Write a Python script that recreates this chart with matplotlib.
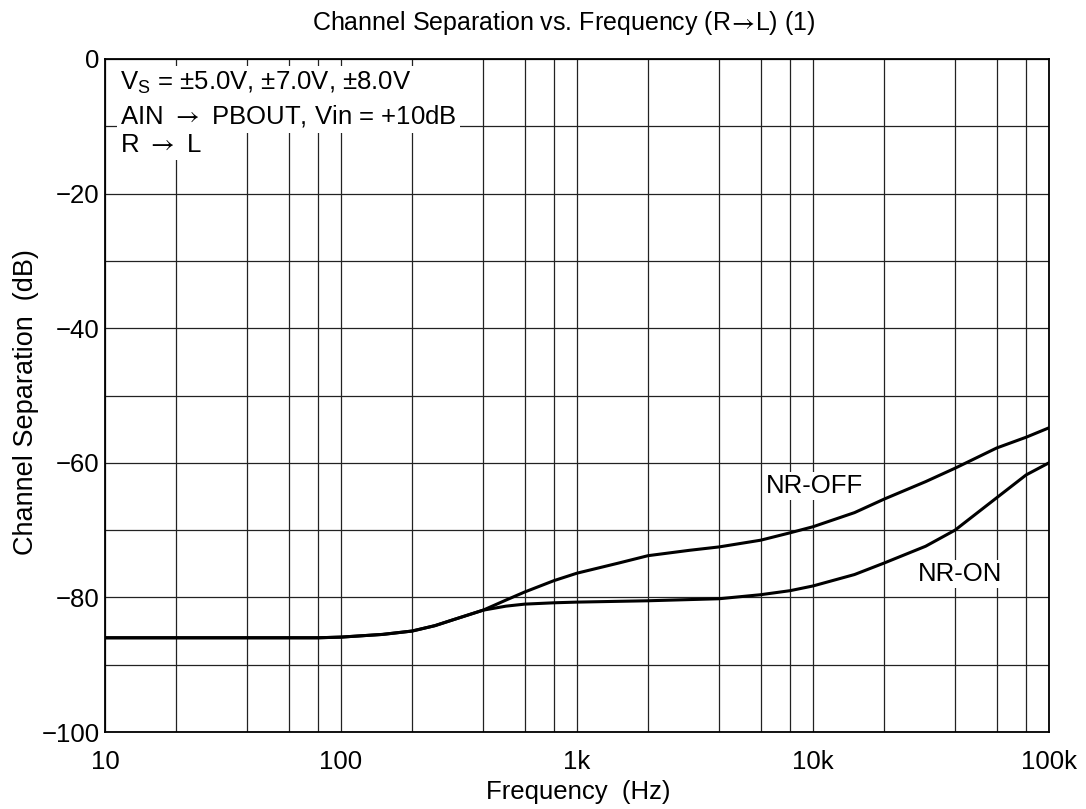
import numpy as np
import matplotlib
matplotlib.use('Agg')
import matplotlib.pyplot as plt
from matplotlib.ticker import FixedLocator, NullFormatter

plt.rcParams['font.family'] = ['Liberation Sans', 'DejaVu Sans']
plt.rcParams['mathtext.fontset'] = 'custom'
plt.rcParams['mathtext.rm'] = 'Liberation Sans'
plt.rcParams['mathtext.sf'] = 'STIXGeneral'
plt.rcParams['axes.unicode_minus'] = True

# common low-frequency part (both curves identical)
freq_low = [10, 20, 40, 60, 80, 100, 150, 200, 250, 300, 400]
sep_low = [-86.0, -86.0, -86.0, -86.0, -86.0, -85.9, -85.5, -85.0, -84.2, -83.3, -81.9]

# NR-OFF above 400 Hz
freq_off = [500, 600, 800, 1000, 1500, 2000, 3000, 4000, 6000, 8000, 10000,
            15000, 20000, 30000, 40000, 60000, 80000, 100000]
sep_off = [-80.4, -79.2, -77.5, -76.4, -74.9, -73.8, -73.0, -72.5, -71.5, -70.4, -69.5,
           -67.4, -65.4, -62.8, -60.8, -57.8, -56.2, -54.8]

# NR-ON above 400 Hz
freq_on = [500, 600, 800, 1000, 2000, 4000, 6000, 8000, 10000,
           15000, 20000, 30000, 40000, 60000, 80000, 100000]
sep_on = [-81.3, -81.0, -80.8, -80.7, -80.5, -80.2, -79.6, -79.0, -78.3,
          -76.6, -74.9, -72.4, -70.0, -65.2, -61.8, -60.0]

x_ticks = [10, 100, 1000, 10000, 100000]
x_labels = ['10', '100', '1k', '10k', '100k']
y_ticks = [-100, -80, -60, -40, -20, 0]

FS = 18.5
ARROW = r'$\mathsf{\rightarrow}$'

fig = plt.figure(figsize=(10.86, 8.09), dpi=100)
ax = fig.add_axes([105 / 1086, 1 - 732 / 809, (1049 - 105) / 1086, (732 - 59) / 809])

ax.set_xscale('log')
ax.set_xlim(10, 100000)
ax.set_ylim(-100, 0)

# grid: decades + 2,4,6,8 in each decade, every 10 dB
minor_x = [m * 10.0 ** d for d in range(1, 5) for m in (2, 4, 6, 8)]
ax.xaxis.set_major_locator(FixedLocator(x_ticks))
ax.xaxis.set_minor_locator(FixedLocator(minor_x))
ax.xaxis.set_minor_formatter(NullFormatter())
ax.set_xticklabels(x_labels)
ax.set_yticks(y_ticks)
ax.yaxis.set_minor_locator(FixedLocator(np.arange(-90, 0, 20)))
ax.grid(True, which='both', color='#222222', linewidth=0.9)
ax.tick_params(which='both', length=0, labelsize=FS)
ax.tick_params(axis='x', pad=13)
ax.tick_params(axis='y', pad=4)
for s in ax.spines.values():
    s.set_linewidth(1.3)

line_kw = dict(color='black', linewidth=2.2, solid_capstyle='round')
ax.plot(freq_low + freq_off, sep_low + sep_off, **line_kw)
ax.plot(freq_low + freq_on, sep_low + sep_on, **line_kw)

box = dict(facecolor='white', edgecolor='none', pad=1.5)
ax.text(10.1e3, -63.5, 'NR-OFF', fontsize=FS, ha='center', va='center', bbox=box)
ax.text(42e3, -76.5, 'NR-ON', fontsize=FS, ha='center', va='center', bbox=box)

cond = [r'V$_{\mathrm{S}}$ = ±5.0V, ±7.0V, ±8.0V',
        'AIN ' + ARROW + ' PBOUT, Vin = +10dB',
        'R ' + ARROW + ' L']
cond_y = [-4.6, -9.6, -13.8]
for txt, yy in zip(cond, cond_y):
    ax.text(11.6, yy, txt, fontsize=FS, ha='left', va='baseline',
            bbox=dict(facecolor='white', edgecolor='none', pad=2.5))

fig.text(564 / 1086, 1 - 23 / 809,
         r'Channel Separation vs. Frequency (R$\!\mathsf{\rightarrow}\!$L) (1)',
         fontsize=18, ha='center', va='center')
ax.set_xlabel('Frequency  (Hz)', fontsize=FS)
ax.set_ylabel('Channel Separation  (dB)', fontsize=19.5)
ax.xaxis.set_label_coords(0.501, -0.071)
ax.yaxis.set_label_coords(-0.070, 0.49)

fig.savefig('out.png', dpi=100)
